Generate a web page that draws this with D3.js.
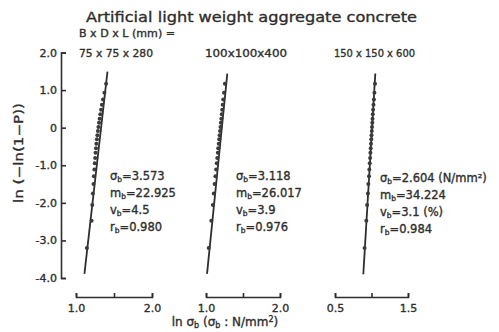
<!DOCTYPE html>
<html>
<head>
<meta charset="utf-8">
<script src="https://cdn.jsdelivr.net/npm/d3@7/dist/d3.min.js"></script>
<style>
  html, body { margin: 0; padding: 0; background: #fff; }
  svg { display: block; }
  text { font-family: "DejaVu Sans", sans-serif; fill: #2e2e2e; stroke: #2e2e2e; stroke-width: 0.35px; }
</style>
</head>
<body>
<svg id="chart" width="499" height="332"></svg>
<script>
// ---------- data ----------
const titleText = "Artificial light weight aggregate concrete";
const sizeHeader = "B x D x L (mm) =";
const panelNames = ["75 x 75 x 280", "100x100x400", "150 x 150 x 600"];
const yTicks = [2, 1, 0, -1, -2, -3, -4];
const yTickLabels = ["2.0", "1.0", "0", "-1.0", "-2.0", "-3.0", "-4.0"];

// plotted ordinate values ln(-ln(1-P)) (same for all panels)
const yValues = [-3.20, -2.48, -2.06, -1.75, -1.50, -1.29, -1.11, -0.95, -0.81, -0.67, -0.55, -0.43,
                 -0.31, -0.20, -0.09, 0.02, 0.13, 0.24, 0.36, 0.48, 0.61, 0.75, 0.93, 1.17];
// ln(sigma_b) of each point, per panel
const xPanel1 = [1.143, 1.205, 1.214, 1.222, 1.230, 1.235, 1.242, 1.247, 1.252, 1.257, 1.263, 1.268,
                 1.275, 1.281, 1.288, 1.295, 1.303, 1.311, 1.320, 1.330, 1.341, 1.355, 1.374, 1.396];
const xPanel2 = [1.036, 1.072, 1.092, 1.105, 1.116, 1.127, 1.137, 1.145, 1.152, 1.160, 1.165, 1.172,
                 1.178, 1.184, 1.190, 1.196, 1.201, 1.207, 1.213, 1.219, 1.226, 1.233, 1.243, 1.255];
const xPanel3 = [0.905, 0.929, 0.940, 0.951, 0.957, 0.966, 0.970, 0.976, 0.981, 0.985, 0.989, 0.993,
                 0.997, 1.000, 1.004, 1.007, 1.011, 1.014, 1.018, 1.022, 1.027, 1.033, 1.040, 1.048];
// fitted straight lines: [x at bottom, y at bottom, x at top, y at top]
const fitPanel1 = [1.111, -3.89, 1.414, 1.49];
const fitPanel2 = [1.014, -3.89, 1.288, 1.44];
const fitPanel3 = [0.888, -3.90, 1.052, 1.44];
// x-axis domains and tick labels per panel
const xDomains = [[1.0, 2.0], [1.0, 2.0], [0.5, 1.5]];
const xTickLabels = [["1.0", "2.0"], ["1.0", "2.0"], ["0.5", "1.5"]];
// statistics
const sigmaB = ["3.573", "3.118", "2.604 (N/mm²)"];
const mB = ["22.925", "26.017", "34.224"];
const vB = ["4.5", "3.9", "3.1 (%)"];
const rB = ["0.980", "0.976", "0.984"];

// ---------- layout ----------
const svg = d3.select("#chart");
const ink = "#2e2e2e";
const xRanges = [[76, 152], [206, 280], [335, 408]];
const statX = [110, 236, 380];
const statY = [[176, 193, 210, 227], [176, 193, 210, 227], [178, 195, 212, 229]];
const panelLabelX = [79, 205, 334];
const panelLabelW = [74, 82, 81];
const xAxisY = 297;

const y = d3.scaleLinear().domain([-4, 2]).range([278, 52.5]);

// title
svg.append("text").attr("x", 86).attr("y", 22)
  .attr("font-size", 14.5).attr("textLength", 331).attr("lengthAdjust", "spacingAndGlyphs")
  .text(titleText);
svg.append("text").attr("x", 79).attr("y", 37)
  .attr("font-size", 11).attr("textLength", 96).attr("lengthAdjust", "spacingAndGlyphs")
  .text(sizeHeader);

// y axis
const yAxis = d3.axisLeft(y).tickValues(yTicks)
  .tickFormat((d, i) => yTickLabels[i]).tickSize(-5).tickSizeOuter(-5).tickPadding(4);
const gy = svg.append("g").attr("transform", "translate(61,0)").call(yAxis);
gy.selectAll("path, line").attr("stroke", ink).attr("stroke-width", 1.6);
gy.selectAll("text").attr("font-size", 11).attr("fill", ink).style("font-family", "DejaVu Sans");

svg.append("text")
  .attr("transform", "translate(23,153) rotate(-90)")
  .attr("text-anchor", "middle").attr("font-size", 12)
  .attr("textLength", 100).attr("lengthAdjust", "spacingAndGlyphs")
  .text("ln (−ln(1−P))");

const panelsX = [xPanel1, xPanel2, xPanel3];
const fits = [fitPanel1, fitPanel2, fitPanel3];

panelsX.forEach((xs, p) => {
  const x = d3.scaleLinear().domain(xDomains[p]).range(xRanges[p]);
  const mid = (xDomains[p][0] + xDomains[p][1]) / 2;

  // panel label
  svg.append("text").attr("x", panelLabelX[p]).attr("y", 57)
    .attr("font-size", 11).attr("textLength", panelLabelW[p]).attr("lengthAdjust", "spacingAndGlyphs")
    .text(panelNames[p]);

  // x axis
  const xAxis = d3.axisBottom(x).tickValues([xDomains[p][0], mid, xDomains[p][1]])
    .tickFormat(d => d === xDomains[p][0] ? xTickLabels[p][0] : (d === xDomains[p][1] ? xTickLabels[p][1] : ""))
    .tickSize(-4).tickSizeOuter(-4).tickPadding(7);
  const gx = svg.append("g").attr("transform", `translate(0,${xAxisY})`).call(xAxis);
  gx.selectAll("path, line").attr("stroke", ink).attr("stroke-width", 1.6);
  gx.selectAll("text").attr("font-size", 11).attr("fill", ink).style("font-family", "DejaVu Sans");

  // fitted line
  const f = fits[p];
  svg.append("line")
    .attr("x1", x(f[0])).attr("y1", y(f[1]))
    .attr("x2", x(f[2])).attr("y2", y(f[3]))
    .attr("stroke", ink).attr("stroke-width", 1.8);

  // points
  svg.append("g").selectAll("circle").data(xs).join("circle")
    .attr("cx", d => x(d)).attr("cy", (d, i) => y(yValues[i]))
    .attr("r", 2).attr("fill", "#3a3a3a");

  // statistics
  const sx = statX[p];
  const lines = [["σ", "=" + sigmaB[p]], ["m", "=" + mB[p]], ["v", "=" + vB[p]], ["r", "=" + rB[p]]];
  lines.forEach((l, k) => {
    const t = svg.append("text").attr("x", sx).attr("y", statY[p][k] + 4).attr("font-size", 11.5);
    t.append("tspan").text(l[0]);
    t.append("tspan").attr("font-size", 7.5).attr("dy", 2).text("b");
    t.append("tspan").attr("dy", -2).text(l[1]);
  });
});

// x axis title
const xt = svg.append("text").attr("x", 225).attr("y", 326).attr("text-anchor", "middle").attr("font-size", 12);
xt.append("tspan").text("ln σ");
xt.append("tspan").attr("font-size", 8).attr("dy", 2).text("b");
xt.append("tspan").attr("dy", -2).text(" (σ");
xt.append("tspan").attr("font-size", 8).attr("dy", 2).text("b");
xt.append("tspan").attr("dy", -2).text(" : N/mm");
xt.append("tspan").attr("font-size", 8).attr("dy", -4).text("2");
xt.append("tspan").attr("dy", 4).text(")");
</script>
</body>
</html>
